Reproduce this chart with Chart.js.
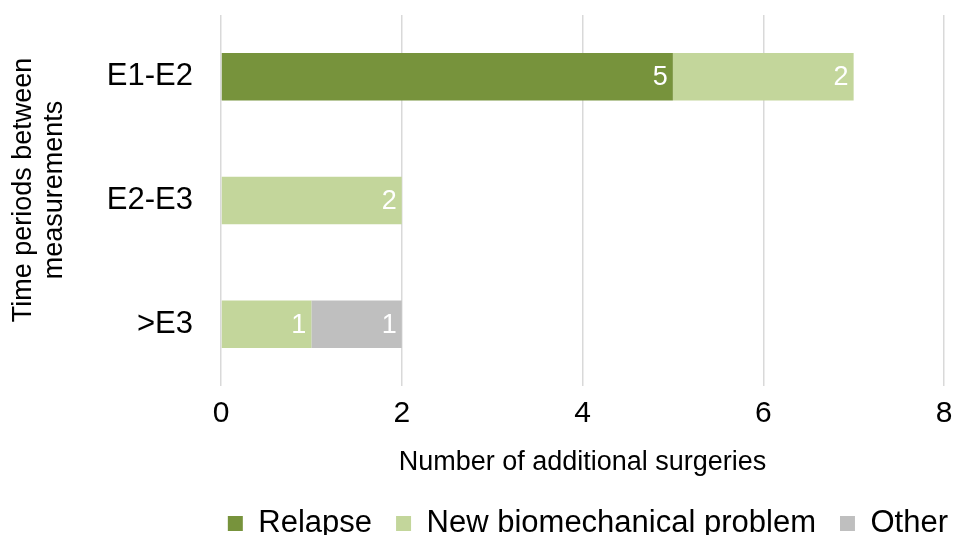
<!DOCTYPE html>
<html>
<head>
<meta charset="utf-8">
<script src="https://cdn.jsdelivr.net/npm/chart.js@4"></script>
<style>
  html, body { margin: 0; padding: 0; background: #fff; }
  #wrap { width: 954px; height: 535px; }
</style>
</head>
<body>
<div id="wrap"><canvas id="myChart"></canvas></div>
<script>
// periods between measurements and surgery counts per reason
const periods = ['E1-E2', 'E2-E3', '>E3'];
const relapse = [5, 0, 0];
const newProblem = [2, 2, 1];
const other = [0, 0, 1];
const xTicks = [0, 2, 4, 6, 8];

const FONT = '"Liberation Sans", Arial, sans-serif';

// white counts at the right end of each segment
const segmentLabels = {
  id: 'segmentLabels',
  afterDatasetsDraw(chart) {
    const ctx = chart.ctx;
    ctx.save();
    ctx.fillStyle = '#ffffff';
    ctx.font = '27px ' + FONT;
    ctx.textAlign = 'right';
    ctx.textBaseline = 'middle';
    chart.data.datasets.forEach((ds, di) => {
      chart.getDatasetMeta(di).data.forEach((bar, i) => {
        let v = ds.data[i];
        if (!v) return;
        ctx.fillText(String(v), bar.x - 5, bar.y + 1);
      });
    });
    ctx.restore();
  }
};

let ctx = document.getElementById('myChart').getContext('2d');
let myChart = new Chart(ctx, {
  type: 'bar',
  data: {
    labels: periods,
    datasets: [
      { label: 'Relapse', data: relapse, backgroundColor: '#77933C' },
      { label: 'New biomechanical problem', data: newProblem, backgroundColor: '#C3D69B' },
      { label: 'Other', data: other, backgroundColor: '#BFBFBF' }
    ]
  },
  options: {
    indexAxis: 'y',
    responsive: true,
    maintainAspectRatio: false,
    animation: false,
    barPercentage: 0.48,
    categoryPercentage: 0.8,
    // legend runs a little past the right and bottom edges
    layout: { padding: { top: 15, right: -18, left: 0, bottom: -14 } },
    plugins: {
      tooltip: { enabled: false },
      legend: {
        position: 'bottom',
        align: 'end',
        labels: {
          boxWidth: 15,
          boxHeight: 15,
          padding: 24,
          color: '#000',
          font: { family: FONT, size: 31 }
        }
      }
    },
    scales: {
      x: {
        stacked: true,
        min: 0,
        max: 8,
        afterBuildTicks: (scale) => { scale.ticks = xTicks.map(v => ({ value: v })); },
        afterFit: (scale) => {
          scale.height = 98;
          scale.paddingRight = 10;
        },
        grid: { color: '#D9D9D9', lineWidth: 1.5, drawTicks: false },
        border: { display: false },
        ticks: { color: '#000', padding: 10, font: { family: FONT, size: 30 } },
        title: {
          display: true,
          text: 'Number of additional surgeries',
          color: '#000',
          padding: { top: 4, bottom: 5 },
          font: { family: FONT, size: 27 }
        }
      },
      y: {
        stacked: true,
        afterFit: (scale) => {
          scale.width = 221;
          scale.paddingTop = 0;
          scale.paddingBottom = 0;
        },
        grid: { display: false, drawTicks: false },
        border: { display: false },
        ticks: { color: '#000', padding: 28, font: { family: FONT, size: 31 } },
        title: {
          display: true,
          text: ['\u2002 Time periods between', '\u2002 measurements'],
          color: '#000',
          padding: { top: 8, bottom: 0 },
          font: { family: FONT, size: 27, lineHeight: 1.15 }
        }
      }
    }
  },
  plugins: [segmentLabels]
});
</script>
</body>
</html>
